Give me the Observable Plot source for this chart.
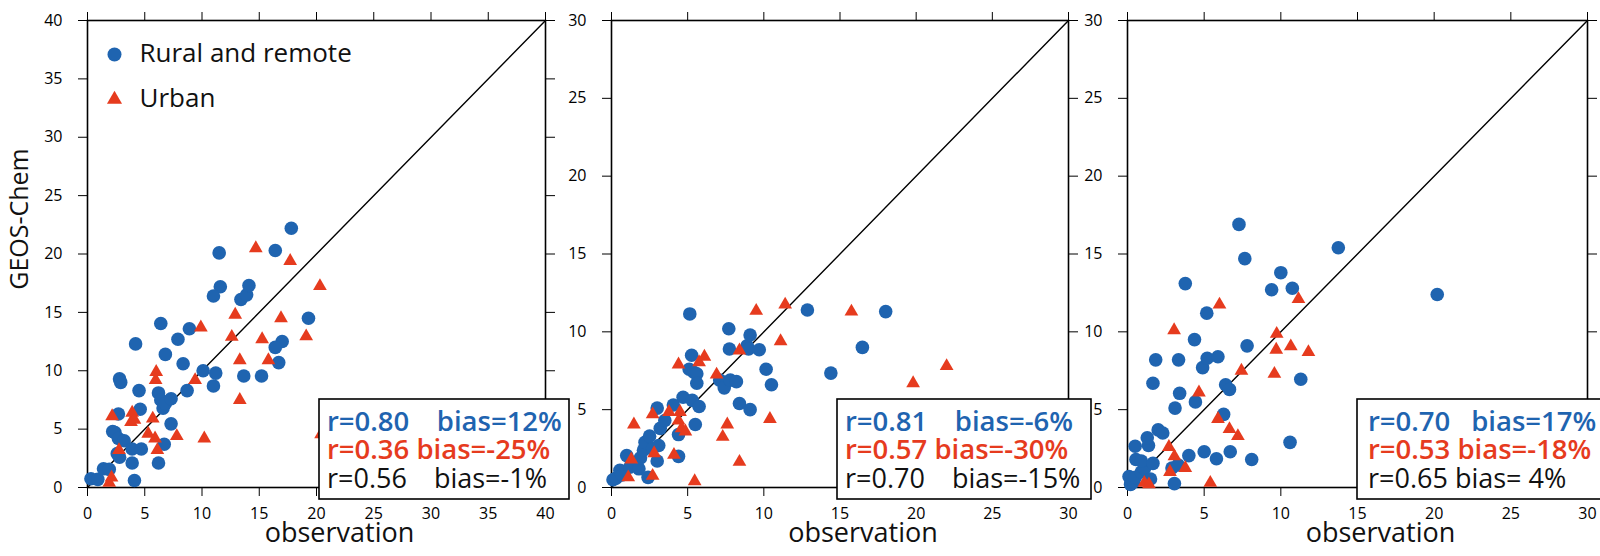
<!DOCTYPE html>
<html><head><meta charset="utf-8">
<script src="https://cdn.jsdelivr.net/npm/d3@7"></script>
<script src="https://cdn.jsdelivr.net/npm/@observablehq/plot@0.6"></script>
<style>
html,body{margin:0;padding:0;background:#fff;}
#chart{position:relative;width:1600px;height:556px;overflow:hidden;font-family:"Open Sans",sans-serif;}
#chart svg{position:absolute;left:0;top:0;max-width:none;background:transparent;overflow:visible;}
#chart svg text{white-space:pre;}
</style></head><body><div id="chart"></div>
<script>
// ---- data (observation, GEOS-Chem) ----
const seriesNames = ["Rural and remote", "Urban"];
const xLabel = "observation";
const yLabel = "GEOS-Chem";

const ticks40 = [0, 5, 10, 15, 20, 25, 30, 35, 40];
const ticks30 = [0, 5, 10, 15, 20, 25, 30];

const rural1 = [[0.3,0.75],[0.9,0.7],[1.4,1.6],[1.9,1.55],[2.4,4.7],[2.2,4.8],[2.7,4.2],[3.2,4.0],[2.6,2.9],[2.8,2.6],[2.7,6.3],[2.8,9.3],[2.9,9.0],[3.9,3.3],[4.7,3.3],[3.9,2.1],[4.1,0.6],[4.5,8.3],[4.6,6.7],[4.2,12.3],[6.2,8.1],[6.4,7.5],[6.6,6.8],[6.8,7.2],[7.3,7.6],[7.3,5.45],[6.7,3.7],[6.2,2.1],[6.8,11.4],[6.4,14.05],[7.9,12.7],[8.9,13.6],[8.35,10.6],[8.7,8.3],[10.1,10.0],[11.2,9.8],[11.0,8.7],[11.5,20.1],[11.6,17.2],[11.0,16.4],[13.4,16.1],[13.9,16.5],[14.1,17.3],[13.65,9.55],[15.2,9.55],[16.4,20.3],[17.8,22.2],[17.0,12.5],[16.4,12.0],[16.7,10.7],[19.3,14.5]];
const urban1 = [[1.9,0.4],[2.1,0.85],[2.15,6.1],[2.75,3.2],[3.8,5.6],[3.9,6.4],[4.1,5.8],[5.3,4.6],[5.7,5.9],[5.9,4.2],[6.1,3.2],[5.95,9.2],[6.0,9.9],[7.8,4.4],[9.4,9.2],[9.9,13.7],[10.2,4.2],[12.6,12.9],[12.9,14.8],[13.3,10.9],[13.3,7.5],[14.7,20.5],[15.25,12.7],[15.8,10.9],[16.9,14.5],[17.7,19.4],[19.1,12.95],[20.3,17.25],[20.4,4.55]];

const rural2 = [[0.1,0.5],[0.3,0.6],[0.55,1.1],[0.7,0.8],[1.0,2.05],[1.2,1.3],[1.5,1.6],[1.8,1.2],[1.9,1.9],[2.1,2.4],[2.2,2.9],[2.4,0.65],[2.5,3.3],[2.7,2.5],[3.0,5.1],[3.0,1.7],[3.2,3.8],[3.5,4.3],[3.1,2.7],[4.06,5.3],[4.4,3.4],[4.4,2.0],[4.7,5.8],[5.3,5.6],[5.75,5.2],[5.5,4.05],[5.1,7.6],[5.4,7.4],[5.6,7.3],[5.6,6.7],[5.26,8.5],[5.14,11.15],[7.1,6.9],[7.4,6.4],[7.8,6.9],[8.2,6.8],[7.7,10.2],[7.74,8.9],[8.4,5.4],[9.1,5.0],[8.9,9.1],[9.1,9.8],[9.0,8.9],[9.7,8.85],[10.15,7.6],[10.5,6.6],[12.86,11.4],[14.4,7.35],[16.47,9.0],[18.0,11.3]];
const urban2 = [[1.1,0.65],[1.3,1.8],[1.47,4.05],[2.7,0.75],[2.8,2.2],[2.7,4.7],[3.77,4.85],[4.1,2.1],[4.4,7.9],[4.5,4.85],[4.4,4.3],[4.6,3.8],[4.85,3.6],[5.46,0.4],[5.75,8.05],[6.1,8.4],[6.9,7.25],[7.3,3.25],[7.6,4.05],[8.4,1.65],[8.4,8.8],[9.5,11.35],[10.4,4.4],[11.1,9.4],[11.4,11.75],[15.75,11.3],[19.8,6.7],[22.0,7.8]];

const rural3 = [[0.1,0.7],[0.2,0.2],[0.4,0.35],[0.5,0.65],[0.9,1.0],[1.1,1.2],[0.5,2.65],[0.55,1.8],[0.9,1.7],[1.66,1.55],[1.37,2.7],[1.29,3.2],[1.5,0.55],[2.0,3.7],[2.3,3.5],[2.9,1.25],[3.3,1.45],[3.06,0.25],[1.66,6.7],[1.84,8.2],[3.1,5.1],[3.4,6.05],[3.33,8.2],[3.77,13.1],[4.0,2.05],[4.37,9.5],[4.43,5.5],[4.9,7.7],[5.0,2.3],[5.17,11.2],[5.2,8.3],[5.9,8.4],[5.8,1.85],[6.27,4.7],[6.4,6.6],[6.65,6.3],[6.7,2.3],[7.27,16.9],[7.65,14.7],[7.8,9.1],[8.1,1.8],[9.4,12.7],[10.0,13.8],[10.75,12.8],[10.6,2.9],[11.3,6.95],[13.75,15.4],[20.2,12.4]];
const urban3 = [[1.1,0.3],[1.4,0.2],[2.7,2.6],[2.77,1.0],[3.06,2.0],[3.04,10.1],[3.77,1.25],[4.66,6.1],[5.4,0.3],[5.9,4.4],[6.0,11.75],[6.65,3.75],[7.2,3.3],[7.43,7.5],[9.58,7.3],[9.7,8.85],[9.73,9.87],[10.65,9.07],[11.15,12.1],[11.8,8.7]];

const stats1 = ["r=0.80  bias=12%", "r=0.36 bias=-25%", "r=0.56  bias=-1%"];
const stats2 = ["r=0.81  bias=-6%", "r=0.57 bias=-30%", "r=0.70  bias=-15%"];
const stats3 = ["r=0.70  bias=17%", "r=0.53 bias=-18%", "r=0.65 bias= 4%"];

// ---- style ----
const BLUE = "#1f64b0", RED = "#e63b1e";
const statColors = [BLUE, RED, "#111"];
const statWeights = [600, 600, 400];
const W = 1600, H = 556, TOP = 20, BOTTOM = 487;

const panels = [
  {domain: [0, 40], ticks: ticks40, rural: rural1, urban: urban1, stats: stats1, left: 87, right: 545, box: {dx: -226, w: 250, pad: 8, gap: "\u2002\u2002"}, legend: true, ylab: true},
  {domain: [0, 30], ticks: ticks30, rural: rural2, urban: urban2, stats: stats2, left: 611, right: 1068, box: {dx: -231, w: 254, pad: 8, gap: "\u2002\u2002"}},
  {domain: [0, 30], ticks: ticks30, rural: rural3, urban: urban3, stats: stats3, left: 1127, right: 1587, box: {dx: -230, w: 254, pad: 11, gap: "\u2002 "}}
];

function statsBox(lines, box) {
  return (index, scales, values, dims) => {
    const r = dims.width - dims.marginRight;
    const b = dims.height - dims.marginBottom;
    const g = d3.create("svg:g");
    const x0 = r + box.dx, y0 = b - 88;
    g.append("rect").attr("x", x0).attr("y", y0).attr("width", box.w).attr("height", 100)
      .attr("fill", "white").attr("stroke", "black").attr("stroke-width", 1.6);
    lines.forEach((t, i) => {
      g.append("text").attr("x", x0 + box.pad).attr("y", y0 + 22 + i * 28.5).attr("dy", "0.36em")
        .attr("fill", statColors[i]).attr("font-size", i === 2 ? 27 : 27.5).attr("font-weight", statWeights[i]).attr("text-anchor", "start")
        .attr("font-family", "Open Sans, sans-serif").style("white-space", "pre")
        .text(t.replace("  ", box.gap));
    });
    return g.node();
  };
}

const chart = document.getElementById("chart");
panels.forEach(p => {
  const blank = () => "";
  const marks = [
    Plot.axisX({anchor: "bottom", ticks: p.ticks, tickSize: 9, tickPadding: 11, fontSize: 16, label: null}),
    Plot.axisX({anchor: "top", ticks: p.ticks, tickSize: 9, tickFormat: blank, label: null}),
    Plot.axisY({anchor: "left", ticks: p.ticks, tickSize: 9, tickPadding: 16, fontSize: 16, label: null}),
    Plot.axisY({anchor: "right", ticks: p.ticks, tickSize: 9, tickFormat: blank, label: null}),
    Plot.frame({stroke: "black", strokeWidth: 1.6}),
    Plot.line(p.domain.map(v => [v, v]), {x: d => d[0], y: d => d[1], stroke: "black", strokeWidth: 1.4}),
    Plot.dot(p.rural, {x: d => d[0], y: d => d[1], r: 6.8, fill: BLUE, symbol: "circle"}),
    Plot.dot(p.urban, {x: d => d[0], y: d => d[1], r: 5.1, fill: RED, symbol: "triangle"}),
    Plot.text([xLabel], {frameAnchor: "bottom", lineAnchor: "middle", dx: 23, dy: 46, fontSize: 27, fill: "#111"})
  ];
  if (p.ylab) {
    marks.push(Plot.text([yLabel], {frameAnchor: "left", textAnchor: "middle", lineAnchor: "middle", rotate: -90, dx: -68, dy: -35, fontSize: 25, fill: "#111"}));
  }
  if (p.legend) {
    marks.push(
      Plot.dot([seriesNames[0]], {frameAnchor: "top-left", dx: 27, dy: 34, r: 7, fill: BLUE, symbol: "circle"}),
      Plot.dot([seriesNames[1]], {frameAnchor: "top-left", dx: 27, dy: 79, r: 5.6, fill: RED, symbol: "triangle"}),
      Plot.text([seriesNames[0]], {frameAnchor: "top-left", textAnchor: "start", lineAnchor: "middle", dx: 52, dy: 33, fontSize: 26, fill: "#111"}),
      Plot.text([seriesNames[1]], {frameAnchor: "top-left", textAnchor: "start", lineAnchor: "middle", dx: 52, dy: 78, fontSize: 26, fill: "#111"})
    );
  }
  marks.push(statsBox(p.stats, p.box));
  const svg = Plot.plot({
    width: W, height: H,
    marginLeft: p.left, marginRight: W - p.right, marginTop: TOP, marginBottom: H - BOTTOM,
    x: {domain: p.domain}, y: {domain: p.domain},
    style: {fontFamily: "Open Sans, sans-serif", fontSize: "16px", color: "black", background: "transparent", overflow: "visible"},
    marks
  });
  chart.appendChild(svg);
});
</script></body></html>
